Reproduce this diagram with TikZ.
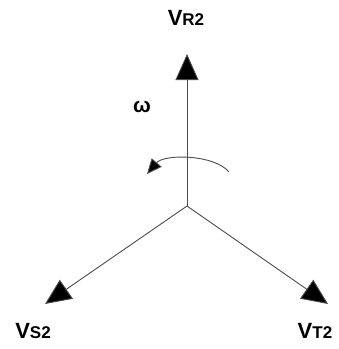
\documentclass[tikz,border=0pt]{standalone}
\usepackage{fontspec}
\setmainfont{Liberation Sans}
\usetikzlibrary{arrows.meta}
\begin{document}
\begin{tikzpicture}[x=1pt,y=-1pt,
  phasor/.style={draw=black!70,line width=0.9pt,-{Triangle[length=26pt,width=23pt,fill=black]}},
  lbl/.style={inner sep=0pt,font=\bfseries\fontsize{22}{24}\selectfont}]
\useasboundingbox (0,0) rectangle (339,349);
\coordinate (o) at (187,206);
\coordinate (r) at (187,54);
\coordinate (s) at (45,304);
\coordinate (t) at (328,304);
\draw[phasor] (o) -- (r);
\draw[phasor] (o) -- (s);
\draw[phasor] (o) -- (t);
\coordinate (a1) at (229,172);
\coordinate (a2) at (147,174);
\draw[draw=black!70,line width=0.9pt,-{Triangle[length=15pt,width=13pt,fill=black]}] (a1) .. controls (214,154) and (164,154) .. (a2);
\node[lbl] (lr) at (186,18) {V\fontsize{17}{20}\selectfont R2};
\node[lbl] (lw) at (142,107) {\fontsize{21}{22}\selectfont ω};
\node[lbl] (ls) at (33,331) {V\fontsize{17}{20}\selectfont S2};
\node[lbl] (lt) at (315,331) {V\fontsize{17}{20}\selectfont T2};
\end{tikzpicture}
\end{document}
